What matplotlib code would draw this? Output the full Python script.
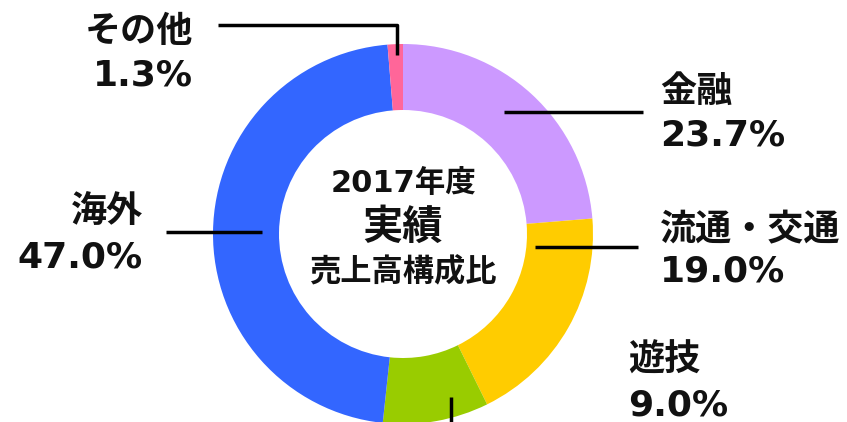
import matplotlib.pyplot as plt

# DejaVu Sans for the wide Verdana-like digits, Noto CJK for the Japanese
plt.rcParams['font.family'] = ['DejaVu Sans', 'Noto Sans CJK JP']

# 2017年度 売上高構成比
segments = ['金融', '流通・交通', '遊技', '海外', 'その他']
shares = [23.7, 19.0, 9.0, 47.0, 1.3]
colors = ['#CC99FF', '#FFCC00', '#99CC00', '#3366FF', '#FF6699']
center_lines = ['2017年度', '実績', '売上高構成比']

W, H = 847, 422
fig = plt.figure(figsize=(W / 100, H / 100), dpi=100)
ax = fig.add_axes([0, 0, 1, 1])

cx, cy, r = 403, H - 234, 190
ax.pie(shares, colors=colors, startangle=90, counterclock=False,
       radius=r, center=(cx, cy), frame=True,
       wedgeprops=dict(width=66, linewidth=0))
ax.set_xlim(0, W)
ax.set_ylim(0, H)
ax.set_aspect('equal')
ax.axis('off')

txt = dict(color='#111111', fontweight='bold', va='center')

# center text
ax.text(cx, H - 183, center_lines[0], ha='center', fontsize=22, **txt)
ax.text(cx, H - 228, center_lines[1], ha='center', fontsize=29, **txt)
ax.text(cx, H - 272, center_lines[2], ha='center', fontsize=22.5, **txt)

# labels: (x, y of name, y of value, ha)
label_pos = {
    '金融': (660, 92, 135, 'left'),
    '流通・交通': (660, 230, 271, 'left'),
    '遊技': (628, 361, 405, 'left'),
    '海外': (143, 213, 258, 'right'),
    'その他': (193, 32, 75, 'right'),
}
for name, val in zip(segments, shares):
    x, y1, y2, ha = label_pos[name]
    ax.text(x, H - y1, name, ha=ha, fontsize=26, **txt)
    ax.text(x, H - y2, f'{val:.1f}%', ha=ha, fontsize=26, **txt)

# leader lines
lk = dict(color='black', lw=2.5, solid_capstyle='butt')
ax.plot([504, 643], [H - 112, H - 112], **lk)
ax.plot([535, 638], [H - 247, H - 247], **lk)
ax.plot([451, 451], [H - 397, -5], **lk)
ax.plot([166, 262], [H - 232, H - 232], **lk)
ax.plot([218, 397, 397], [H - 25, H - 25, H - 55], **lk)

fig.savefig('out.png', dpi=100)
